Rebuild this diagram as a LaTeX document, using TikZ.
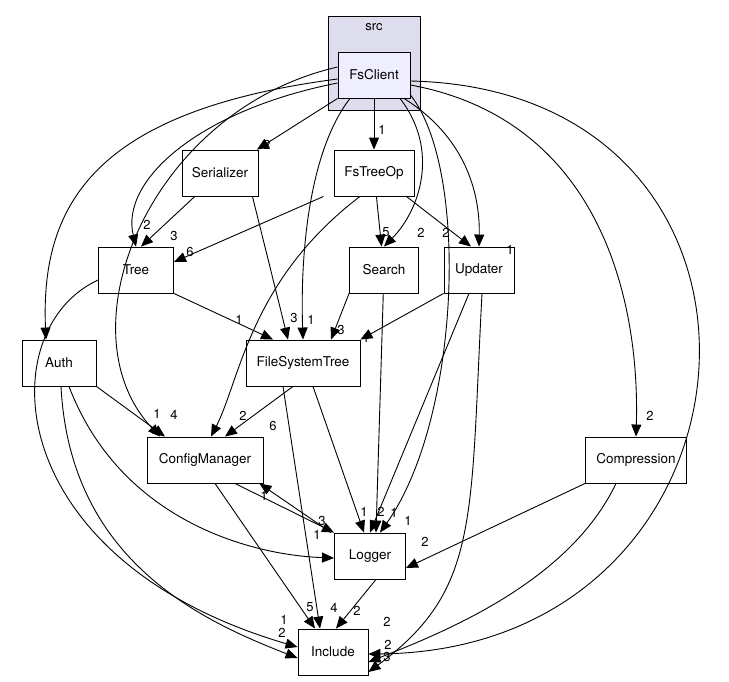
\documentclass[tikz,border=0pt]{standalone}
\usepackage{fontspec}
\setmainfont{TeX Gyre Heros}
\usetikzlibrary{arrows.meta}
\begin{document}
\begin{tikzpicture}[x=1pt,y=-1pt,line width=0.9pt,
  box/.style={draw,fill=white,minimum height=46pt,inner sep=0pt,font=\fontsize{13.5}{15}\selectfont},
  dep/.style={-{Triangle[length=12pt,width=10pt]}},
  lbl/.style={inner sep=0pt,font=\fontsize{13}{14}\selectfont}]
\useasboundingbox (0,0) rectangle (729,681);
% cluster
\draw[fill={rgb,255:red,221;green,221;blue,238}] (328,16) rectangle (420,110);
\node[lbl] at (374,27) {src};
% nodes
\node[box,fill={rgb,255:red,238;green,238;blue,255},minimum width=72pt] (fsc) at (374,75) {FsClient};
\node[box,minimum width=76pt] (ser) at (220,173) {Serializer};
\node[box,minimum width=80pt] (fto) at (374,173) {FsTreeOp};
\node[box,minimum width=75pt] (tree) at (136,270) {Tree};
\node[box,minimum width=69pt] (search) at (384,270) {Search};
\node[box,minimum width=70pt] (upd) at (479,270) {Updater};
\node[box,minimum width=74pt] (auth) at (59,363) {Auth};
\node[box,minimum width=114pt] (fst) at (303,363) {FileSystemTree};
\node[box,minimum width=116pt] (cfg) at (205,460) {ConfigManager};
\node[box,minimum width=101pt] (comp) at (636,460) {Compression};
\node[box,minimum width=71pt] (log) at (370,556) {Logger};
\node[box,minimum width=70pt] (inc) at (333,652) {Include};
% FsClient dependencies
\draw[dep] (fsc.south west) -- (ser);
\draw[dep] (fsc) -- (fto);
\draw[dep] ([yshift=-8pt]fsc.west) .. controls (200,110) and (120,180) .. (tree.north);
\draw[dep] ([yshift=-4pt]fsc.west) .. controls (100,110) and (40,200) .. ([xshift=-13pt]auth.north);
\draw[dep] ([yshift=8pt]fsc.west) .. controls (150,110) and (60,330) .. ([xshift=-45pt]cfg.north);
\draw[dep] ([xshift=-24pt]fsc.south) .. controls (310,150) and (300,250) .. (fst.north);
\draw[dep] ([xshift=26pt]fsc.south) .. controls (440,150) and (420,210) .. (search.north);
\draw[dep] ([xshift=30pt]fsc.south) .. controls (470,140) and (480,200) .. (upd.north);
\draw[dep] ([yshift=-20pt]fsc.east) .. controls (470,170) and (460,420) .. ([xshift=10pt]log.north);
\draw[dep] ([yshift=-10pt]fsc.east) .. controls (600,120) and (640,300) .. (comp.north);
\draw[dep] ([yshift=-6pt]fsc.east) .. controls (820,90) and (780,650) .. ([yshift=-2pt]inc.east);
% second level
\draw[dep] (ser) -- ([xshift=5pt]tree.north);
\draw[dep] ([xshift=-6pt]ser.south east) -- ([xshift=-15pt]fst.north);
\draw[dep] ([xshift=-10pt]fto.south west) -- ([yshift=8pt]tree.east);
\draw[dep] (fto) -- (search);
\draw[dep] ([xshift=-8pt]fto.south east) -- ([xshift=-8pt]upd.north);
\draw[dep] ([xshift=-14pt]fto.south) .. controls (250,280) and (240,380) .. ([xshift=6pt]cfg.north);
\draw[dep] (tree.south east) -- ([xshift=-30pt]fst.north);
\draw[dep] ([yshift=-10pt]tree.west) .. controls (-10,330) and (0,560) .. ([yshift=5pt]inc.west);
\draw[dep] (search.south west) -- ([xshift=28pt]fst.north);
\draw[dep] (search) -- ([xshift=6pt]log.north);
\draw[dep] (upd.south west) -- (fst.north east);
\draw[dep] ([xshift=-10pt]upd.south) -- (log.north);
\draw[dep] ([xshift=3pt]upd.south) .. controls (470,520) and (480,590) .. ([yshift=-20pt]inc.east);
\draw[dep] (auth.south east) -- ([xshift=-40pt]cfg.north);
\draw[dep] ([xshift=2pt]auth.south) .. controls (70,560) and (200,620) .. ([yshift=-6pt]inc.west);
\draw[dep] ([xshift=10pt]auth.south) .. controls (120,520) and (250,555) .. ([yshift=-2pt]log.west);
\draw[dep] ([xshift=-10pt]fst.south) -- ([xshift=20pt]cfg.north);
\draw[dep] ([xshift=10pt]fst.south) -- ([xshift=-6pt]log.north);
\draw[dep] ([xshift=-20pt]fst.south) -- ([xshift=-13pt]inc.north);
\draw[dep] ([xshift=30pt]cfg.south) -- (log.north west);
\draw[dep] ([xshift=-3pt]log.north west) -- ([xshift=-4pt]cfg.south east);
\draw[dep] ([xshift=10pt]cfg.south) -- ([xshift=-18pt]inc.north);
\draw[dep] (comp.south west) -- ([yshift=-12pt]log.east);
\draw[dep] ([xshift=-20pt]comp.south) .. controls (570,580) and (450,630) .. ([yshift=-10pt]inc.east);
\draw[dep] ([xshift=6pt]log.south) -- ([xshift=3pt]inc.north);
% labels
\node[lbl] at (267,145) {2};
\node[lbl] at (382,130) {1};
\node[lbl] at (147,225) {2};
\node[lbl] at (421,233) {2};
\node[lbl] at (510,250) {1};
\node[lbl] at (46,334) {1};
\node[lbl] at (311,320) {1};
\node[lbl] at (174,415) {4};
\node[lbl] at (408,521) {1};
\node[lbl] at (650,416) {2};
\node[lbl] at (387,657) {3};
\node[lbl] at (174,236) {3};
\node[lbl] at (294,318) {3};
\node[lbl] at (190,252) {6};
\node[lbl] at (386,232) {5};
\node[lbl] at (446,233) {2};
\node[lbl] at (243,416) {2};
\node[lbl] at (239,320) {1};
\node[lbl] at (282,633) {2};
\node[lbl] at (341,330) {3};
\node[lbl] at (381,512) {2};
\node[lbl] at (366,338) {1};
\node[lbl] at (394,513) {1};
\node[lbl] at (387,622) {2};
\node[lbl] at (157,414) {1};
\node[lbl] at (284,620) {1};
\node[lbl] at (317,535) {1};
\node[lbl] at (273,426) {6};
\node[lbl] at (364,512) {1};
\node[lbl] at (334,608) {4};
\node[lbl] at (322,521) {3};
\node[lbl] at (264,496) {1};
\node[lbl] at (310,607) {5};
\node[lbl] at (425,542) {2};
\node[lbl] at (388,645) {2};
\node[lbl] at (357,611) {2};
\end{tikzpicture}
\end{document}
